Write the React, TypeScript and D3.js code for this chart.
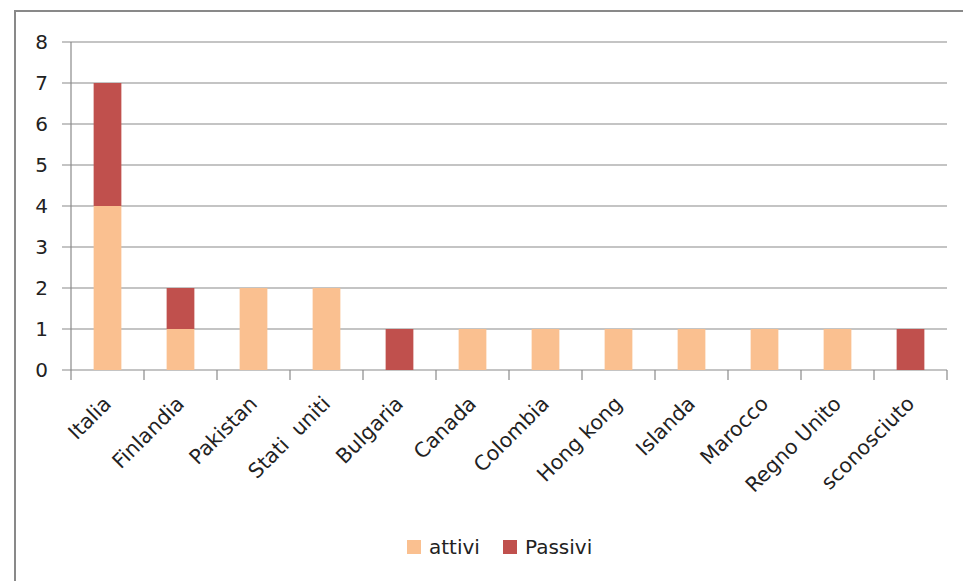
import React from "react";
import * as d3 from "d3";

const categories = ["Italia", "Finlandia", "Pakistan", "Stati  uniti", "Bulgaria", "Canada", "Colombia", "Hong kong", "Islanda", "Marocco", "Regno Unito", "sconosciuto"];
const attivi = [4, 1, 2, 2, 0, 1, 1, 1, 1, 1, 1, 0];
const passivi = [3, 1, 0, 0, 1, 0, 0, 0, 0, 0, 0, 1];
const seriesNames = ["attivi", "Passivi"];
const seriesColors = ["#FAC090", "#C0504D"];
const yTicks = [0, 1, 2, 3, 4, 5, 6, 7, 8];

const W = 963;
const H = 581;
const plot = { left: 71, right: 947, top: 42, bottom: 370 };
const FONT = "'DejaVu Sans', sans-serif";

export default function App() {
  const x = d3.scaleBand<string>().domain(categories).range([plot.left, plot.right]).paddingInner(0.62).paddingOuter(0.31);
  const xOuter = d3.scaleBand<string>().domain(categories).range([plot.left, plot.right]);
  const y = d3.scaleLinear().domain([0, 8]).range([plot.bottom, plot.top]);

  const rows = categories.map((c, i) => ({ cat: c, attivi: attivi[i], passivi: passivi[i] }));
  const stack = d3.stack<any>().keys(["attivi", "passivi"])(rows);

  return (
    <svg width={W} height={H} style={{ position: "absolute", left: 0, top: 0, background: "#fff" }} fontFamily={FONT}>
      <rect x={15} y={11} width={W} height={H} fill="#fff" stroke="#898989" strokeWidth={2} />
      {yTicks.map((t) => (
        <g key={t}>
          <line x1={62} x2={plot.right} y1={y(t)} y2={y(t)} stroke="#8a8a8a" strokeWidth={1.2} />
          <text x={48} y={y(t)} textAnchor="end" dominantBaseline="central" fontSize={20} fill="#222">{t}</text>
        </g>
      ))}
      <line x1={plot.left} x2={plot.left} y1={plot.top} y2={plot.bottom} stroke="#8a8a8a" strokeWidth={1.2} />
      {categories.map((c, i) => (
        <line key={"tk" + i} x1={xOuter(c)!} x2={xOuter(c)!} y1={plot.bottom} y2={plot.bottom + 10} stroke="#8a8a8a" strokeWidth={1.2} />
      ))}
      <line x1={plot.right} x2={plot.right} y1={plot.bottom} y2={plot.bottom + 10} stroke="#8a8a8a" strokeWidth={1.2} />
      {stack.map((s, si) => (
        <g key={si} fill={seriesColors[si]}>
          {s.map((d, i) => (d[1] - d[0] > 0 ? (
            <rect key={i} x={x(categories[i])!} width={x.bandwidth()} y={y(d[1])} height={y(d[0]) - y(d[1])} />
          ) : null))}
        </g>
      ))}
      {categories.map((c, i) => {
        const cx = xOuter(c)! + xOuter.bandwidth() / 2 + 5;
        const cy = plot.bottom + 35;
        return (
          <text key={"xl" + i} x={cx} y={cy} transform={`rotate(-45 ${cx} ${cy})`} textAnchor="end" fontSize={20.5} fill="#222" style={{ whiteSpace: "pre" }}>{c}</text>
        );
      })}
      {seriesNames.map((n, i) => {
        const lx = [407, 503][i];
        return (
          <g key={"lg" + i}>
            <rect x={lx} y={540} width={14} height={14} fill={seriesColors[i]} />
            <text x={lx + 22} y={547} dominantBaseline="central" fontSize={20} fill="#222">{n}</text>
          </g>
        );
      })}
    </svg>
  );
}
